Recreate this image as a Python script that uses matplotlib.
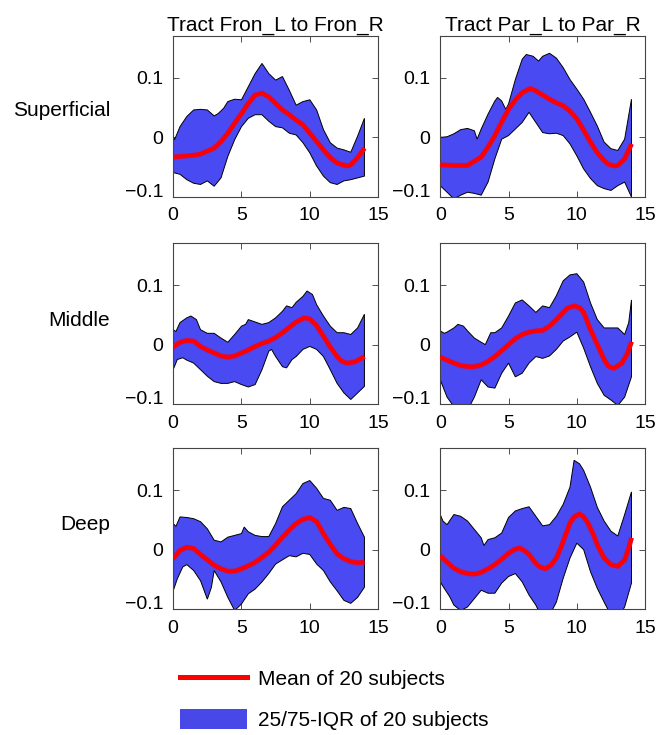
import matplotlib
matplotlib.use("Agg")
import matplotlib.pyplot as plt
from matplotlib.lines import Line2D
from matplotlib.patches import Patch

plt.rcParams['font.family'] = ['Liberation Sans', 'DejaVu Sans']

col_titles = ["Tract Fron_L to Fron_R", "Tract Par_L to Par_R"]
row_names = ["Superficial", "Middle", "Deep"]
xticks = [0, 5, 10, 15]
yticks = [-0.1, 0, 0.1]
ytick_labels = ["\u22120.1", "0", "0.1"]

# Superficial / Fron
sup_fron_mean_x = [0, 1, 1.5, 2, 2.5, 3, 3.5, 4, 4.5, 5, 5.5, 6, 6.5, 7, 7.5, 8, 8.5, 9, 9.5,
                   10, 10.5, 11, 11.5, 12, 12.7, 13, 13.5, 14]
sup_fron_mean = [-0.033, -0.031, -0.030, -0.028, -0.023, -0.018, -0.007, 0.007, 0.024, 0.040,
                 0.057, 0.071, 0.074, 0.068, 0.057, 0.046, 0.038, 0.029, 0.021, 0.007,
                 -0.007, -0.021, -0.034, -0.043, -0.048, -0.046, -0.034, -0.018]
sup_fron_hi_x = [0, 0.1, 0.5, 1, 1.5, 2, 2.5, 3, 3.3, 3.7, 4, 4.5, 5, 5.5, 6, 6.5, 7, 7.5, 8,
                 8.5, 9, 9.5, 10, 10.5, 11, 11.5, 12, 12.5, 13, 13.5, 14]
sup_fron_hi = [0.002, -0.004, 0.018, 0.035, 0.046, 0.047, 0.046, 0.036, 0.040, 0.049, 0.060,
               0.064, 0.063, 0.085, 0.107, 0.124, 0.107, 0.096, 0.102, 0.079, 0.054, 0.060,
               0.063, 0.046, 0.013, -0.009, -0.018, -0.021, -0.025, 0.002, 0.032]
sup_fron_lo_x = [0, 0.5, 1, 1.5, 2, 2.5, 3, 3.5, 4, 4.5, 5, 5.5, 6, 6.5, 7, 7.5, 8, 8.5, 9,
                 9.5, 10, 10.5, 11, 11.5, 12, 12.5, 13, 13.5, 14]
sup_fron_lo = [-0.059, -0.062, -0.071, -0.077, -0.079, -0.073, -0.082, -0.068, -0.032, -0.004,
               0.018, 0.032, 0.038, 0.038, 0.027, 0.018, 0.016, 0.007, 0.004, -0.009, -0.026,
               -0.048, -0.065, -0.076, -0.079, -0.073, -0.071, -0.068, -0.065]

# Superficial / Par
sup_par_mean_x = [0, 1, 2, 3, 3.5, 4, 4.5, 5, 5.5, 6, 6.6, 7, 7.5, 8, 8.5, 9, 9.5, 10, 10.5,
                  11, 11.5, 12, 12.3, 12.8, 13, 13.5, 14]
sup_par_mean = [-0.046, -0.047, -0.047, -0.033, -0.016, 0.003, 0.026, 0.047, 0.063, 0.075,
                0.082, 0.078, 0.071, 0.064, 0.058, 0.053, 0.044, 0.031, 0.012, -0.008,
                -0.026, -0.039, -0.045, -0.048, -0.047, -0.036, -0.011]
sup_par_hi_x = [0, 0.5, 1, 1.5, 2, 2.5, 2.7, 3, 3.5, 4, 4.2, 4.5, 4.8, 5, 5.5, 6, 6.3, 6.8,
                7.2, 7.5, 8, 8.5, 9, 9.5, 10, 10.5, 11, 11.5, 12, 12.5, 13, 13.5, 14]
sup_par_hi = [0.0, 0.001, 0.006, 0.013, 0.015, 0.011, -0.003, 0.014, 0.039, 0.061, 0.067,
              0.061, 0.047, 0.056, 0.097, 0.131, 0.139, 0.136, 0.128, 0.136, 0.141, 0.133,
              0.117, 0.097, 0.081, 0.064, 0.042, 0.019, -0.008, -0.019, -0.022, -0.003, 0.064]
sup_par_lo_x = [0, 0.5, 1, 1.5, 2, 2.5, 3, 3.5, 4, 4.5, 5, 5.5, 6, 6.5, 7, 7.5, 8, 8.5, 9,
                9.5, 10, 10.5, 11, 11.5, 12, 12.5, 13, 13.5, 14]
sup_par_lo = [-0.081, -0.092, -0.103, -0.097, -0.092, -0.094, -0.097, -0.075, -0.036, -0.003,
              0.003, 0.014, 0.025, 0.042, 0.025, 0.008, 0.006, 0.007, 0.003, -0.011, -0.031,
              -0.053, -0.069, -0.081, -0.086, -0.089, -0.081, -0.075, -0.100]

# Middle / Fron
mid_fron_mean_x = [0, 0.5, 1, 1.5, 2, 2.5, 3, 3.5, 4, 4.5, 5, 5.5, 6, 6.5, 7, 7.5, 8, 8.5, 9,
                   9.6, 10, 10.5, 11, 11.5, 12, 12.3, 12.7, 13.3, 14]
mid_fron_mean = [-0.004, 0.004, 0.007, 0.006, -0.003, -0.009, -0.014, -0.019, -0.021, -0.019,
                 -0.014, -0.009, -0.003, 0.002, 0.006, 0.012, 0.020, 0.029, 0.038, 0.045,
                 0.043, 0.032, 0.014, -0.004, -0.020, -0.027, -0.031, -0.029, -0.020]
mid_fron_hi_x = [0, 0.2, 0.5, 1, 1.3, 1.7, 2, 2.5, 3, 3.5, 4, 4.5, 5, 5.3, 5.5, 6, 6.5, 7,
                 7.5, 8, 8.3, 8.7, 9, 9.5, 9.8, 10.2, 10.5, 11, 11.5, 12, 12.5, 13, 13.5, 14]
mid_fron_hi = [0.025, 0.022, 0.037, 0.045, 0.048, 0.042, 0.025, 0.019, 0.019, 0.011, 0.004,
               0.017, 0.031, 0.034, 0.042, 0.038, 0.034, 0.037, 0.045, 0.056, 0.065, 0.062,
               0.071, 0.081, 0.090, 0.084, 0.067, 0.048, 0.031, 0.020, 0.020, 0.017, 0.028, 0.051]
mid_fron_lo_x = [0, 0.3, 0.7, 1, 1.5, 2, 2.5, 3, 3.5, 4, 4.5, 5, 5.5, 6, 6.5, 7, 7.2, 7.5, 8,
                 8.3, 8.7, 9, 9.5, 10, 10.5, 11, 11.5, 12, 12.5, 13, 13.5, 14]
mid_fron_lo = [-0.042, -0.025, -0.022, -0.026, -0.031, -0.042, -0.053, -0.062, -0.065, -0.065,
               -0.062, -0.067, -0.071, -0.067, -0.042, -0.011, -0.008, -0.020, -0.037, -0.039,
               -0.025, -0.020, -0.008, -0.003, -0.008, -0.020, -0.042, -0.065, -0.081, -0.092,
               -0.081, -0.070]

# Middle / Par
mid_par_mean_x = [0, 0.5, 1, 1.5, 2, 2.5, 3, 3.5, 4, 4.5, 5, 5.5, 6, 6.5, 7, 7.5, 8, 8.5, 9,
                  9.3, 9.8, 10.2, 10.5, 11, 11.5, 12, 12.3, 12.7, 13.3, 13.7, 14]
mid_par_mean = [-0.021, -0.026, -0.031, -0.035, -0.037, -0.037, -0.034, -0.028, -0.020, -0.010,
                0.000, 0.010, 0.017, 0.021, 0.023, 0.024, 0.031, 0.042, 0.054, 0.061,
                0.065, 0.062, 0.054, 0.025, 0.000, -0.025, -0.036, -0.040, -0.031, -0.015, 0.005]
mid_par_hi_x = [0, 0.3, 0.5, 1, 1.3, 1.7, 2, 2.5, 3, 3.3, 3.7, 4, 4.5, 5, 5.5, 6, 6.5, 7, 7.5,
                8, 8.5, 9, 9.5, 10, 10.5, 11, 11.5, 12, 12.5, 13, 13.5, 13.8, 14]
mid_par_hi = [0.023, 0.019, 0.021, 0.028, 0.034, 0.031, 0.023, 0.011, 0.004, 0.000, 0.020,
              0.020, 0.028, 0.048, 0.070, 0.075, 0.065, 0.054, 0.065, 0.062, 0.082, 0.107,
              0.117, 0.119, 0.105, 0.070, 0.042, 0.028, 0.028, 0.028, 0.017, 0.037, 0.075]
mid_par_lo_x = [0, 0.5, 1, 1.5, 2, 2.5, 3, 3.5, 4, 4.5, 5, 5.5, 6, 6.5, 7, 7.5, 8, 8.5, 9,
                9.5, 10, 10.5, 11, 11.5, 12, 12.5, 13, 13.5, 14]
mid_par_lo = [-0.059, -0.088, -0.104, -0.110, -0.110, -0.088, -0.059, -0.071, -0.073, -0.048,
              -0.031, -0.054, -0.048, -0.031, -0.020, -0.023, -0.019, -0.008, 0.006, 0.013,
              0.021, -0.006, -0.037, -0.065, -0.085, -0.093, -0.102, -0.088, -0.054]

# Deep / Fron
deep_fron_mean_x = [0, 0.5, 1, 1.5, 2, 2.5, 3, 3.5, 4, 4.5, 5, 5.5, 6, 6.5, 7, 7.5, 8, 8.5, 9,
                    9.5, 10, 10.5, 11, 11.5, 12, 12.5, 13, 13.5, 14]
deep_fron_mean = [-0.015, -0.001, 0.004, 0.002, -0.008, -0.017, -0.026, -0.032, -0.036, -0.036,
                  -0.032, -0.027, -0.021, -0.013, -0.004, 0.008, 0.021, 0.033, 0.044, 0.051,
                  0.054, 0.047, 0.027, 0.009, -0.007, -0.015, -0.020, -0.022, -0.021]
deep_fron_hi_x = [0, 0.2, 0.5, 1, 1.5, 2, 2.5, 3, 3.5, 4, 4.5, 5, 5.2, 5.5, 6, 6.5, 7, 7.5, 8,
                  8.5, 9, 9.5, 10, 10.5, 11, 11.5, 12, 12.5, 13, 13.5, 14]
deep_fron_hi = [0.044, 0.039, 0.055, 0.054, 0.052, 0.047, 0.035, 0.016, 0.013, 0.021, 0.024,
                0.027, 0.038, 0.030, 0.024, 0.022, 0.022, 0.044, 0.072, 0.083, 0.094, 0.111,
                0.116, 0.103, 0.086, 0.083, 0.066, 0.071, 0.069, 0.044, 0.021]
deep_fron_lo_x = [0, 0.3, 0.7, 1, 1.5, 2, 2.5, 2.8, 3, 3.5, 4, 4.5, 5, 5.5, 6, 6.5, 7, 7.5, 8,
                  8.5, 9, 9.5, 10, 10.5, 11, 11.5, 12, 12.5, 13, 13.5, 14]
deep_fron_lo = [-0.069, -0.049, -0.029, -0.025, -0.035, -0.052, -0.083, -0.063, -0.035, -0.054,
                -0.080, -0.102, -0.091, -0.074, -0.066, -0.054, -0.040, -0.024, -0.017, -0.010,
                -0.012, -0.006, -0.008, -0.024, -0.035, -0.054, -0.069, -0.085, -0.090, -0.080,
                -0.063]

# Deep / Par
deep_par_mean_x = [0, 0.5, 1, 1.5, 2, 2.5, 3, 3.5, 4, 4.5, 5, 5.4, 5.8, 6.2, 6.5, 7, 7.3, 7.7,
                   8.1, 8.5, 8.8, 9, 9.5, 9.8, 10.2, 10.5, 10.8, 11.2, 11.5, 12, 12.5, 13,
                   13.5, 13.8, 14]
deep_par_mean = [-0.010, -0.021, -0.031, -0.037, -0.040, -0.041, -0.038, -0.032, -0.025, -0.016,
                 -0.006, 0.000, 0.003, -0.002, -0.008, -0.023, -0.029, -0.032, -0.026, -0.014,
                 0.002, 0.014, 0.045, 0.055, 0.060, 0.055, 0.045, 0.026, 0.008, -0.014,
                 -0.025, -0.028, -0.017, 0.003, 0.020]
deep_par_hi_x = [0, 0.2, 0.5, 1, 1.5, 2, 2.5, 3, 3.2, 3.5, 4, 4.5, 5, 5.5, 6, 6.5, 7, 7.5, 8,
                 8.5, 9, 9.5, 9.8, 10.2, 10.5, 11, 11.5, 12, 12.5, 13, 13.5, 14]
deep_par_hi = [0.059, 0.048, 0.042, 0.059, 0.056, 0.048, 0.034, 0.020, 0.007, 0.017, 0.020,
               0.028, 0.054, 0.065, 0.069, 0.072, 0.056, 0.040, 0.042, 0.056, 0.076, 0.105,
               0.150, 0.144, 0.133, 0.105, 0.071, 0.048, 0.031, 0.023, 0.059, 0.097]
deep_par_lo_x = [0, 0.3, 0.7, 1, 1.5, 2, 2.5, 3, 3.5, 4, 4.5, 5, 5.5, 6, 6.5, 7, 7.5, 8, 8.5,
                 9, 9.5, 10, 10.5, 11, 11.5, 12, 12.5, 13, 13.5, 14]
deep_par_lo = [-0.054, -0.065, -0.079, -0.093, -0.102, -0.096, -0.082, -0.068, -0.073, -0.073,
               -0.056, -0.045, -0.040, -0.054, -0.076, -0.093, -0.116, -0.110, -0.088, -0.048,
               -0.014, 0.011, 0.000, -0.037, -0.065, -0.088, -0.110, -0.116, -0.096, -0.056]

panels = [
    (0, 0, sup_fron_mean_x, sup_fron_mean, sup_fron_hi_x, sup_fron_hi, sup_fron_lo_x, sup_fron_lo),
    (0, 1, sup_par_mean_x, sup_par_mean, sup_par_hi_x, sup_par_hi, sup_par_lo_x, sup_par_lo),
    (1, 0, mid_fron_mean_x, mid_fron_mean, mid_fron_hi_x, mid_fron_hi, mid_fron_lo_x, mid_fron_lo),
    (1, 1, mid_par_mean_x, mid_par_mean, mid_par_hi_x, mid_par_hi, mid_par_lo_x, mid_par_lo),
    (2, 0, deep_fron_mean_x, deep_fron_mean, deep_fron_hi_x, deep_fron_hi, deep_fron_lo_x, deep_fron_lo),
    (2, 1, deep_par_mean_x, deep_par_mean, deep_par_hi_x, deep_par_hi, deep_par_lo_x, deep_par_lo),
]

blue = '#4a4af2'
red = '#ff0000'

fig = plt.figure(figsize=(6.61, 7.35), dpi=100)
lefts = [0.262, 0.666]
bottoms = [0.732, 0.450, 0.171]
w, h = 0.310, 0.219

for r, c, mx, m, hx, hi, lx, lo in panels:
    ax = fig.add_axes([lefts[c], bottoms[r], w, h])
    ax.fill(list(hx) + list(lx[::-1]), list(hi) + list(lo[::-1]),
            facecolor=blue, edgecolor='black', linewidth=0.7, zorder=2)
    ax.plot(mx, m, color='#c8105a', linewidth=3.6, zorder=3,
            solid_capstyle='butt', solid_joinstyle='round')
    ax.plot(mx, m, color=red, linewidth=2.6, zorder=4,
            solid_capstyle='butt', solid_joinstyle='round')
    ax.set_xlim(0, 15)
    ax.set_ylim(-0.1, 0.17)
    ax.set_xticks(xticks)
    ax.set_yticks(yticks)
    ax.set_yticklabels(ytick_labels)
    ax.tick_params(direction='in', top=True, right=True, length=4, width=0.6,
                   labelsize=14, color='#333333')
    ax.tick_params(axis='x', pad=7.5)
    ax.tick_params(axis='y', pad=7)
    # bottom y label sits on the axis edge, as in the original
    ax.get_yticklabels()[0].set_va('baseline')
    for s in ax.spines.values():
        s.set_color('#444444')
        s.set_linewidth(0.8)
    if r == 0:
        ax.set_title(col_titles[c], fontsize=15, pad=3.5)

row_y = [1 - 110 / 735, 1 - 320 / 735, 1 - 525 / 735]
for name, y in zip(row_names, row_y):
    fig.text(110 / 661, y, name, fontsize=15, ha='right', va='center')

handles = [Line2D([], [], color=red, linewidth=3.6),
           Patch(facecolor='#4848e8', edgecolor='none')]
labels = ["Mean of 20 subjects", "25/75-IQR of 20 subjects"]
fig.legend(handles, labels, loc='center left', bbox_to_anchor=(180 / 661, 1 - 699 / 735),
           frameon=False, fontsize=15, handlelength=3.2, handleheight=1.1,
           handletextpad=0.53, labelspacing=0.95, borderpad=0, borderaxespad=0)

fig.savefig("out.png", dpi=100)
